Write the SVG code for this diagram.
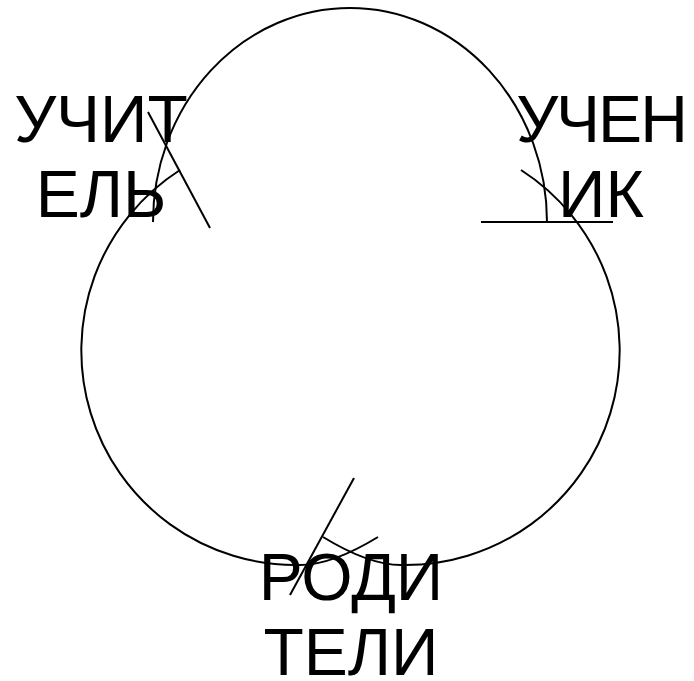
<svg xmlns="http://www.w3.org/2000/svg" width="694" height="681" viewBox="0 0 694 681">
<style>
.c{fill:none;stroke:#000;stroke-width:2}
.t{font-family:"Liberation Sans",Arial,sans-serif;font-size:66px;fill:#000;text-anchor:middle}
</style>
<rect width="694" height="681" fill="#fff"/>
<g id="connectors">
<path id="arc-top" class="c" d="M153,222 A197,214 0 0 1 547,222"/>
<path id="arc-left" class="c" d="M180,170 A214.5,214.5 0 0 0 300,565 C330,565 360,548 378,537"/>
<path id="arc-right" class="c" transform="translate(701,0) scale(-1,1)" d="M180,170 A214.5,214.5 0 0 0 300,565 C330,565 360,548 378,537"/>
<line class="c" x1="148" y1="112" x2="210" y2="228"/>
<line class="c" x1="481" y1="222" x2="613" y2="222"/>
<line class="c" x1="354" y1="478" x2="290" y2="595"/>
</g>
<g id="node-uchitel">
<text class="t" x="101" y="142">УЧИТ</text>
<text class="t" x="101" y="217">ЕЛЬ</text>
</g>
<g id="node-uchenik">
<text class="t" x="601" y="142" letter-spacing="-2">УЧЕН</text>
<text class="t" x="601" y="217">ИК</text>
</g>
<g id="node-roditeli">
<text class="t" x="351" y="600">РОДИ</text>
<text class="t" x="351" y="675">ТЕЛИ</text>
</g>
</svg>
